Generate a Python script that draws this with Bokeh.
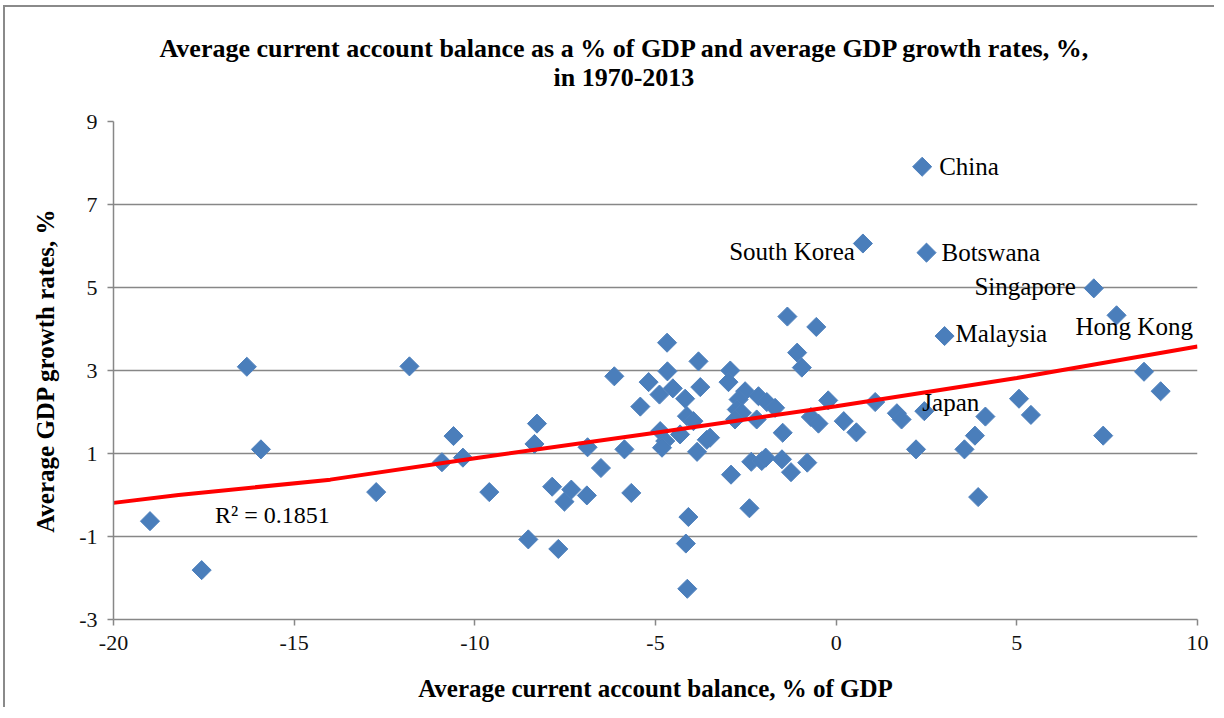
from bokeh.plotting import figure
from bokeh.models import ColumnDataSource, LabelSet, Label, Title, FixedTicker, Range1d
from bokeh.embed import file_html
from bokeh.resources import INLINE
import math

# ---- data ----
# unnamed countries: average current account balance (% of GDP) and average GDP growth (%)
ca_balance = [-18.99, -17.56, -16.31, -15.92, -12.73, -11.81, -10.91, -10.59, -10.33, -9.60,
              -8.52, -8.35, -8.28, -7.86, -7.69, -7.52, -7.33, -6.90, -6.88, -6.51,
              -6.14, -5.86, -5.67, -5.42, -5.19, -4.89, -4.68, -4.67, -4.52, -4.87,
              -4.73, -4.82, -4.32, -4.18, -4.13, -3.95, -3.85, -3.81, -3.76, -3.49,
              -3.58, -4.09, -4.16, -4.12, -2.93, -2.98, -2.91, -2.52, -2.70, -2.75,
              -2.61, -2.80, -2.15, -1.92, -1.69, -2.20, -2.35, -2.06, -1.95, -2.40,
              -1.48, -1.50, -1.25, -1.35, -0.55, -1.08, -0.95, -0.80, -0.70, -0.49,
              -0.22, 0.21, 0.56, 1.08, 1.68, 1.81, 2.21, 3.55, 3.84, 4.13,
              3.93, 5.06, 5.39, 7.39, 8.52, 8.98]
gdp_growth = [-0.63, -1.81, 3.09, 1.10, 0.07, 3.10, 0.79, 1.42, 0.90, 0.07,
              -1.07, 1.23, 1.72, 0.20, -1.30, -0.16, 0.13, -0.01, 1.15, 0.65,
              2.86, 1.10, 0.05, 2.13, 2.72, 2.42, 3.67, 2.98, 2.57, 1.54,
              1.30, 1.14, 1.46, 2.32, 1.90, 1.78, 1.04, 3.22, 2.60, 1.38,
              1.33, -0.53, -1.17, -2.26, 3.00, 2.72, 0.49, 2.50, 2.30, 2.06,
              1.98, 1.82, 2.38, 2.24, 2.10, 1.82, 0.80, 0.82, 0.90, -0.32,
              1.50, 0.86, 0.55, 4.30, 4.05, 3.43, 3.07, 0.78, 1.88, 1.72,
              2.28, 1.78, 1.51, 2.24, 1.97, 1.82, 1.10, 1.10, 1.43, 1.89,
              -0.05, 2.32, 1.93, 1.43, 2.97, 2.50]

# labelled countries
named = ["China", "South Korea", "Botswana", "Singapore", "Hong Kong", "Malaysia", "Japan"]
named_ca = [2.38, 0.74, 2.50, 7.13, 7.76, 3.00, 2.44]
named_gdp = [7.91, 6.06, 5.84, 4.98, 4.33, 3.83, 2.02]

# linear trend line (as drawn) and its R²
trend_x = [-20, -18.2, -14, -9.9, -5, 0, 5, 10]
trend_y = [-0.19, 0.0, 0.37, 0.90, 1.50, 2.14, 2.82, 3.58]
r_squared = "R² = 0.1851"

x_ticks = [-20, -15, -10, -5, 0, 5, 10]
y_ticks = [-3, -1, 1, 3, 5, 7, 9]

title_1 = "Average current account balance  as a % of GDP and average GDP growth rates,  %,"
title_2 = "in 1970-2013"
x_title = "Average current account balance, % of GDP"
y_title = "Average GDP growth rates, %"

# ---- styling ----
FONT = "Liberation Serif"
GRID = "#878787"
BLUE = "#4A7EBB"

p = figure(width=1211, height=702, output_backend="svg", toolbar_location=None,
           x_range=Range1d(x_ticks[0], x_ticks[-1]), y_range=Range1d(y_ticks[0], y_ticks[-1]),
           min_border_left=108, min_border_right=19, min_border_top=114, min_border_bottom=90)
p.margin = (5, 0, 0, 3)
p.styles = {"border-left": "2px solid #8a8a8a", "border-top": "2px solid #8a8a8a"}
p.outline_line_color = None
p.background_fill_color = "white"
p.border_fill_color = "white"

# titles (p.title is the outer line; the added Title sits next to the frame)
p.title.text = title_1
p.title.align = "left"
p.title.offset = 46
p.title.text_font = FONT
p.title.text_font_size = "26px"
p.title.text_font_style = "bold"
p.title.text_color = "black"
p.title.vertical_align = "bottom"
p.title.standoff = -55
p.add_layout(Title(text=title_2, align="left", offset=440, text_font=FONT, text_font_size="26px",
                   text_font_style="bold", text_color="black", vertical_align="top",
                   standoff=55), "above")

# axes
for ax in (p.xaxis[0], p.yaxis[0]):
    ax.axis_line_color = GRID
    ax.axis_line_width = 1.5
    ax.major_tick_line_color = GRID
    ax.major_tick_line_width = 1.5
    ax.major_tick_out = 6
    ax.major_tick_in = 0
    ax.minor_tick_line_color = None
    ax.major_label_text_font = FONT
    ax.major_label_text_font_size = "22px"
    ax.major_label_text_color = "#111111"
    ax.axis_label_text_font = FONT
    ax.axis_label_text_font_size = "25px"
    ax.axis_label_text_font_style = "bold"
    ax.axis_label_text_color = "black"

p.xaxis.ticker = FixedTicker(ticks=x_ticks)
p.yaxis.ticker = FixedTicker(ticks=y_ticks)
p.xaxis.major_label_overrides = {t: str(t) for t in x_ticks}
p.yaxis.major_label_overrides = {t: str(t) for t in y_ticks}
p.xaxis.axis_label = x_title
p.yaxis.axis_label = y_title
p.xaxis.major_label_standoff = 10
p.yaxis.major_label_standoff = 10
p.xaxis.axis_label_standoff = 22
p.yaxis.axis_label_standoff = 17

p.xgrid.visible = False
p.ygrid.ticker = FixedTicker(ticks=y_ticks)
p.ygrid.grid_line_color = GRID
p.ygrid.grid_line_width = 1.5

# points
all_x = ca_balance + named_ca
all_y = gdp_growth + named_gdp
p.scatter(all_x, all_y, marker="square", angle=math.pi / 4, size=13.5,
          fill_color=BLUE, line_color="#4F81BD", line_width=1)

# trend line
p.line(trend_x, trend_y, line_color="#FF0000", line_width=4)

# country labels
label_style = {
    "China": ("left", 17, 0),
    "South Korea": ("right", -8, -8),
    "Botswana": ("left", 15, 0),
    "Singapore": ("right", -18, 2),
    "Hong Kong": ("left", -41, -11),
    "Malaysia": ("left", 11, 3),
    "Japan": ("left", -2, 9),
}
src = ColumnDataSource(dict(
    x=named_ca, y=named_gdp, text=named,
    align=[label_style[n][0] for n in named],
    dx=[label_style[n][1] for n in named],
    dy=[label_style[n][2] for n in named],
))
p.add_layout(LabelSet(x="x", y="y", text="text", source=src, text_align="align",
                      x_offset="dx", y_offset="dy", text_baseline="middle",
                      text_font=FONT, text_font_size="25px", text_color="black"))

# R² label
p.add_layout(Label(x=-17.19, y=-0.47, text=r_squared, text_baseline="middle",
                   text_font=FONT, text_font_size="24px", text_color="black"))

open("out.html", "w").write(file_html(p, INLINE))
